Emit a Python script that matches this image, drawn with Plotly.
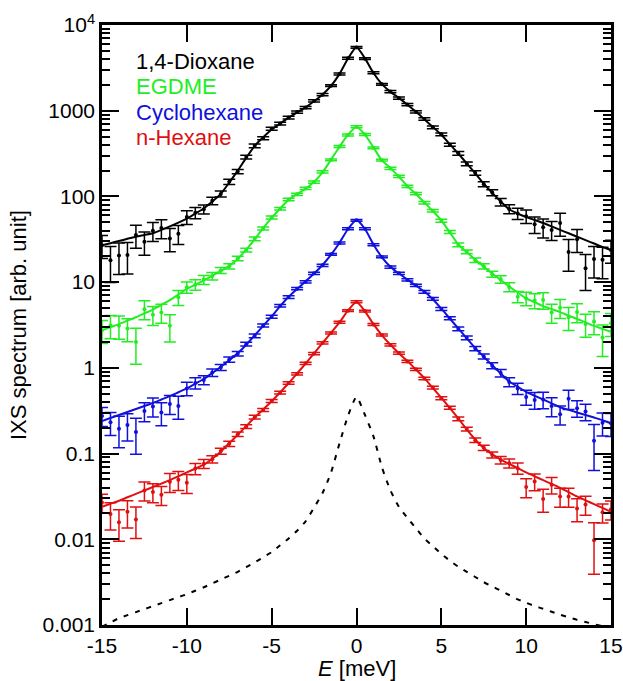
import plotly.graph_objects as go

# Energy transfer grid (meV)
E = [-15.0, -14.5, -14.0, -13.5, -13.0, -12.5, -12.0, -11.5, -11.0, -10.5,
     -10.0, -9.5, -9.0, -8.5, -8.0, -7.5, -7.0, -6.5, -6.0, -5.5,
     -5.0, -4.5, -4.0, -3.5, -3.0, -2.5, -2.0, -1.5, -1.0, -0.5,
     0.0, 0.5, 1.0, 1.5, 2.0, 2.5, 3.0, 3.5, 4.0, 4.5,
     5.0, 5.5, 6.0, 6.5, 7.0, 7.5, 8.0, 8.5, 9.0, 9.5,
     10.0, 10.5, 11.0, 11.5, 12.0, 12.5, 13.0, 13.5, 14.0, 14.5, 15.0]

# ---- 1,4-Dioxane (black) ----
dioxane_data = [27.0, 18.0, 20.4, 20.7, 35.5, 29.5, 39.8, 42.7, 32.4, 36.7,
                57.5, 64.6, 70.8, 89.1, 107, 148, 195, 288, 389, 479,
                617, 708, 832, 966, 1090, 1300, 1540, 1960, 2680, 4100,
                5480, 4050, 2770, 2030, 1670, 1400, 1180, 970, 800, 640,
                530, 402, 318, 240, 188, 139, 111, 86.0, 71.5, 63.1,
                58.9, 47.3, 43.7, 40.7, 49.0, 22.4, 31.6, 14.5, 18.6, 18.2, 23.7]
dioxane_relerr = [0.30, 0.45, 0.40, 0.40, 0.30, 0.30, 0.25, 0.25, 0.30, 0.25,
                  0.18, 0.15, 0.12, 0.10, 0.08, 0.07, 0.06, 0.05, 0.05, 0.04,
                  0.04, 0.035, 0.035, 0.03, 0.03, 0.03, 0.03, 0.025, 0.025, 0.025,
                  0.025, 0.025, 0.025, 0.025, 0.03, 0.03, 0.03, 0.03, 0.035, 0.035,
                  0.04, 0.04, 0.05, 0.05, 0.06, 0.07, 0.08, 0.10, 0.12, 0.15,
                  0.18, 0.22, 0.25, 0.25, 0.30, 0.40, 0.30, 0.45, 0.40, 0.40, 0.30]
dioxane_fit = [26.9, 28.5, 30.2, 32.0, 33.9, 35.5, 37.2, 40.7, 44.7, 49.5,
               55.0, 63.1, 72.4, 87.1, 107, 145, 200, 282, 389, 490,
               603, 708, 832, 955, 1096, 1288, 1549, 1950, 2692, 4074,
               5495, 4074, 2754, 2042, 1660, 1413, 1175, 977, 794, 646,
               525, 407, 316, 243, 186, 141, 110, 87.1, 70.8, 63.1,
               57.5, 53.1, 49.0, 44.7, 40.7, 37.2, 33.9, 30.9, 28.2, 25.7, 23.7]

# ---- EGDME (green) ----
egdme_data = [2.75, 3.13, 3.09, 2.88, 2.00, 4.84, 4.17, 4.42, 3.09, 6.68,
              8.71, 9.33, 10.7, 11.8, 13.7, 15.3, 18.9, 23.7, 32.0, 42.2,
              56.9, 71.8, 92.0, 106, 124, 147, 193, 267, 383, 521,
              650, 528, 369, 265, 212, 171, 131, 108, 84.3, 68.2,
              52.0, 38.4, 27.2, 22.6, 18.0, 15.3, 12.4, 10.8, 8.80, 6.76,
              6.46, 6.10, 6.17, 4.42, 5.01, 3.89, 4.47, 3.24, 3.47, 2.26, 3.31]
egdme_relerr = [0.30, 0.30, 0.30, 0.30, 0.45, 0.25, 0.25, 0.25, 0.35, 0.20,
                0.15, 0.14, 0.12, 0.10, 0.08, 0.07, 0.06, 0.05, 0.05, 0.04,
                0.04, 0.035, 0.035, 0.03, 0.03, 0.03, 0.03, 0.025, 0.025, 0.025,
                0.025, 0.025, 0.025, 0.025, 0.03, 0.03, 0.03, 0.03, 0.035, 0.035,
                0.04, 0.04, 0.05, 0.05, 0.06, 0.07, 0.08, 0.10, 0.12, 0.15,
                0.18, 0.20, 0.22, 0.25, 0.25, 0.30, 0.25, 0.30, 0.30, 0.40, 0.30]
egdme_fit = [2.75, 2.99, 3.24, 3.55, 3.89, 4.32, 4.79, 5.43, 6.17, 7.16,
             8.32, 9.33, 10.5, 11.9, 13.5, 15.5, 18.6, 24.0, 31.6, 42.7,
             56.2, 72.4, 91.2, 107, 123, 148, 191, 269, 380, 525,
             646, 525, 372, 263, 214, 170, 132, 107, 85.1, 67.6,
             52.5, 38.0, 27.5, 22.4, 18.2, 15.1, 12.6, 10.6, 8.91, 7.59,
             6.46, 5.82, 5.25, 4.84, 4.47, 4.07, 3.72, 3.39, 3.09, 2.85, 2.63]

# ---- Cyclohexane (blue) ----
cyclohexane_data = [0.275, 0.232, 0.195, 0.216, 0.178, 0.313, 0.355, 0.302, 0.380, 0.359,
                    0.575, 0.668, 0.724, 0.880, 1.01, 1.25, 1.46, 1.89, 2.37, 3.12,
                    3.95, 5.30, 6.70, 8.40, 10.1, 12.7, 15.7, 21.1, 28.6, 42.0,
                    52.6, 42.0, 27.3, 19.7, 15.0, 12.7, 10.6, 9.20, 7.70, 6.38,
                    4.85, 3.80, 2.85, 2.24, 1.68, 1.36, 1.06, 0.870, 0.685, 0.575,
                    0.457, 0.422, 0.427, 0.359, 0.288, 0.437, 0.339, 0.309, 0.141, 0.229, 0.226]
cyclohexane_relerr = [0.25, 0.30, 0.40, 0.35, 0.45, 0.25, 0.25, 0.30, 0.25, 0.30,
                      0.18, 0.15, 0.12, 0.10, 0.08, 0.07, 0.06, 0.05, 0.05, 0.04,
                      0.04, 0.035, 0.035, 0.03, 0.03, 0.03, 0.03, 0.025, 0.025, 0.025,
                      0.025, 0.025, 0.025, 0.025, 0.03, 0.03, 0.03, 0.03, 0.035, 0.035,
                      0.04, 0.04, 0.05, 0.05, 0.06, 0.07, 0.08, 0.10, 0.12, 0.15,
                      0.20, 0.22, 0.22, 0.25, 0.25, 0.25, 0.22, 0.22, 0.55, 0.30, 0.30]
cyclohexane_fit = [0.240, 0.260, 0.282, 0.305, 0.331, 0.359, 0.389, 0.427, 0.468, 0.519,
                   0.575, 0.653, 0.741, 0.871, 1.023, 1.230, 1.479, 1.862, 2.399, 3.090,
                   3.981, 5.248, 6.761, 8.318, 10.23, 12.59, 15.85, 20.89, 28.84, 41.69,
                   53.09, 41.69, 27.54, 19.50, 15.14, 12.59, 10.72, 9.120, 7.762, 6.310,
                   4.898, 3.758, 2.884, 2.213, 1.698, 1.349, 1.072, 0.861, 0.692, 0.603,
                   0.525, 0.473, 0.427, 0.385, 0.347, 0.324, 0.302, 0.282, 0.263, 0.245, 0.226]

# ---- n-Hexane (red) ----
hexane_data = [0.0269, 0.0197, 0.0158, 0.0209, 0.0170, 0.0372, 0.0355, 0.0331, 0.0468, 0.0495,
               0.0457, 0.0668, 0.0759, 0.0860, 0.107, 0.130, 0.168, 0.207, 0.266, 0.323,
               0.411, 0.514, 0.667, 0.853, 1.13, 1.47, 1.96, 2.55, 3.41, 4.65,
               5.90, 4.60, 3.21, 2.42, 1.85, 1.49, 1.19, 0.962, 0.752, 0.588,
               0.443, 0.342, 0.254, 0.193, 0.143, 0.117, 0.0965, 0.0840, 0.0770, 0.0676,
               0.0407, 0.0473, 0.0295, 0.0432, 0.0316, 0.0316, 0.0229, 0.0254, 0.00977, 0.0207, 0.0224]
hexane_relerr = [0.25, 0.35, 0.40, 0.35, 0.40, 0.25, 0.25, 0.25, 0.25, 0.25,
                 0.25, 0.15, 0.12, 0.10, 0.08, 0.07, 0.06, 0.05, 0.05, 0.04,
                 0.04, 0.035, 0.035, 0.03, 0.03, 0.03, 0.03, 0.025, 0.025, 0.025,
                 0.025, 0.025, 0.025, 0.025, 0.03, 0.03, 0.03, 0.03, 0.035, 0.035,
                 0.04, 0.04, 0.05, 0.05, 0.06, 0.07, 0.08, 0.10, 0.12, 0.15,
                 0.25, 0.22, 0.30, 0.22, 0.25, 0.25, 0.30, 0.25, 0.60, 0.25, 0.25]
hexane_fit = [0.0240, 0.0260, 0.0282, 0.0309, 0.0339, 0.0372, 0.0407, 0.0447, 0.0490, 0.0543,
              0.0603, 0.0668, 0.0741, 0.0871, 0.105, 0.132, 0.166, 0.209, 0.263, 0.327,
              0.407, 0.519, 0.661, 0.861, 1.122, 1.479, 1.950, 2.570, 3.388, 4.677,
              5.86, 4.571, 3.236, 2.399, 1.862, 1.479, 1.202, 0.955, 0.759, 0.582,
              0.447, 0.339, 0.257, 0.191, 0.145, 0.116, 0.0977, 0.0851, 0.0759, 0.0676,
              0.0603, 0.0543, 0.0490, 0.0442, 0.0398, 0.0355, 0.0316, 0.0285, 0.0257, 0.0232, 0.0209]

# ---- Resolution function (dashed) ----
resolution = [9.55e-4, 1.072e-3, 1.202e-3, 1.303e-3, 1.413e-3, 1.531e-3, 1.660e-3, 1.799e-3, 1.950e-3, 2.113e-3,
              2.291e-3, 2.512e-3, 2.754e-3, 3.055e-3, 3.388e-3, 3.758e-3, 4.169e-3, 4.732e-3, 5.370e-3, 6.166e-3,
              7.079e-3, 8.511e-3, 1.023e-2, 1.259e-2, 1.622e-2, 2.344e-2, 3.467e-2, 6.026e-2, 0.1318, 0.2754,
              0.4571, 0.2818, 0.1585, 0.06918, 0.03715, 0.02399, 0.01778, 0.01349, 0.01023, 8.318e-3,
              6.761e-3, 5.623e-3, 4.786e-3, 4.169e-3, 3.631e-3, 3.162e-3, 2.818e-3, 2.512e-3, 2.239e-3, 1.995e-3,
              1.820e-3, 1.660e-3, 1.549e-3, 1.429e-3, 1.318e-3, 1.230e-3, 1.148e-3, 1.084e-3, 1.023e-3, 9.66e-4, 9.12e-4]

series_names = ["1,4-Dioxane", "EGDME", "Cyclohexane", "n-Hexane"]
series_colors = ["#000000", "#22ee22", "#1010dd", "#e01010"]
series_data = [dioxane_data, egdme_data, cyclohexane_data, hexane_data]
series_relerr = [dioxane_relerr, egdme_relerr, cyclohexane_relerr, hexane_relerr]
series_fit = [dioxane_fit, egdme_fit, cyclohexane_fit, hexane_fit]

y_tickvals = [0.001, 0.01, 0.1, 1, 10, 100, 1000, 10000]
y_ticktext = ["0.001", "0.01", "0.1", "1", "10", "100", "1000", "10<sup>4</sup>"]
x_tickvals = [-15, -10, -5, 0, 5, 10, 15]
x_ticktext = ["-15", "-10", "-5", "0", "5", "10", "15"]

FONT = "Liberation Sans, Arial, Helvetica, sans-serif"

fig = go.Figure()

for name, col, dat, rel, fit in zip(series_names, series_colors, series_data,
                                    series_relerr, series_fit):
    err = [v * r for v, r in zip(dat, rel)]
    fig.add_trace(go.Scatter(
        x=E, y=dat, mode="markers", name=name,
        marker=dict(color=col, size=4),
        error_y=dict(type="data", array=err, visible=True, color=col,
                     thickness=1.5, width=6),
        showlegend=False, cliponaxis=True))
    fig.add_trace(go.Scatter(
        x=E, y=fit, mode="lines", name=name + " fit",
        line=dict(color=col, width=2, shape="spline", smoothing=0.6),
        showlegend=False))

fig.add_trace(go.Scatter(
    x=E, y=resolution, mode="lines", name="resolution",
    line=dict(color="black", width=2, dash="5px,7px", shape="spline", smoothing=0.6),
    showlegend=False))

# legend as coloured text
legend_y = [0.939, 0.897, 0.855, 0.812]
annotations = []
for name, col, yy in zip(series_names, series_colors, legend_y):
    annotations.append(dict(text=name, x=0.062, y=yy, xref="paper", yref="paper",
                            xanchor="left", yanchor="middle", showarrow=False,
                            font=dict(family=FONT, size=22, color=col)))
annotations.append(dict(text="<i>E</i> [meV]", x=0.5, y=-0.072, xref="paper", yref="paper",
                        xanchor="center", yanchor="middle", showarrow=False,
                        font=dict(family=FONT, size=22, color="black")))
annotations.append(dict(text="IXS spectrum [arb. unit]", x=-0.165, y=0.5, xref="paper",
                        yref="paper", xanchor="center", yanchor="middle", textangle=-90,
                        showarrow=False, font=dict(family=FONT, size=22, color="black")))

fig.update_layout(
    width=623, height=681,
    margin=dict(l=102, r=12, t=25, b=56, autoexpand=False),
    plot_bgcolor="white", paper_bgcolor="white",
    showlegend=False,
    font=dict(family=FONT, size=21, color="black"),
    annotations=annotations,
)
fig.update_xaxes(range=[-15, 15], tickmode="array", tickvals=x_tickvals,
                 ticktext=x_ticktext,
                 ticks="inside", ticklen=17, tickwidth=2, tickcolor="black",
                 showline=True, linewidth=2.5, linecolor="black", mirror="ticks",
                 showgrid=False, zeroline=False,
                 tickfont=dict(family=FONT, size=21, color="black"))
fig.update_yaxes(type="log", range=[-3, 4], tickmode="array", tickvals=y_tickvals,
                 ticktext=y_ticktext, ticks="inside", ticklen=17, tickwidth=2,
                 tickcolor="black", showline=True, linewidth=2.5, linecolor="black",
                 mirror="ticks", showgrid=False, zeroline=False,
                 minor=dict(ticks="inside", ticklen=8, tickwidth=1.5, tickcolor="black",
                            dtick="D1", showgrid=False),
                 tickfont=dict(family=FONT, size=21, color="black"))

# remove the browser's default 8px page margin so the figure fills the window
fig.write_html("out.html",
               config={"displayModeBar": False},
               post_script="document.body.style.margin='0';document.body.style.overflow='hidden';")
